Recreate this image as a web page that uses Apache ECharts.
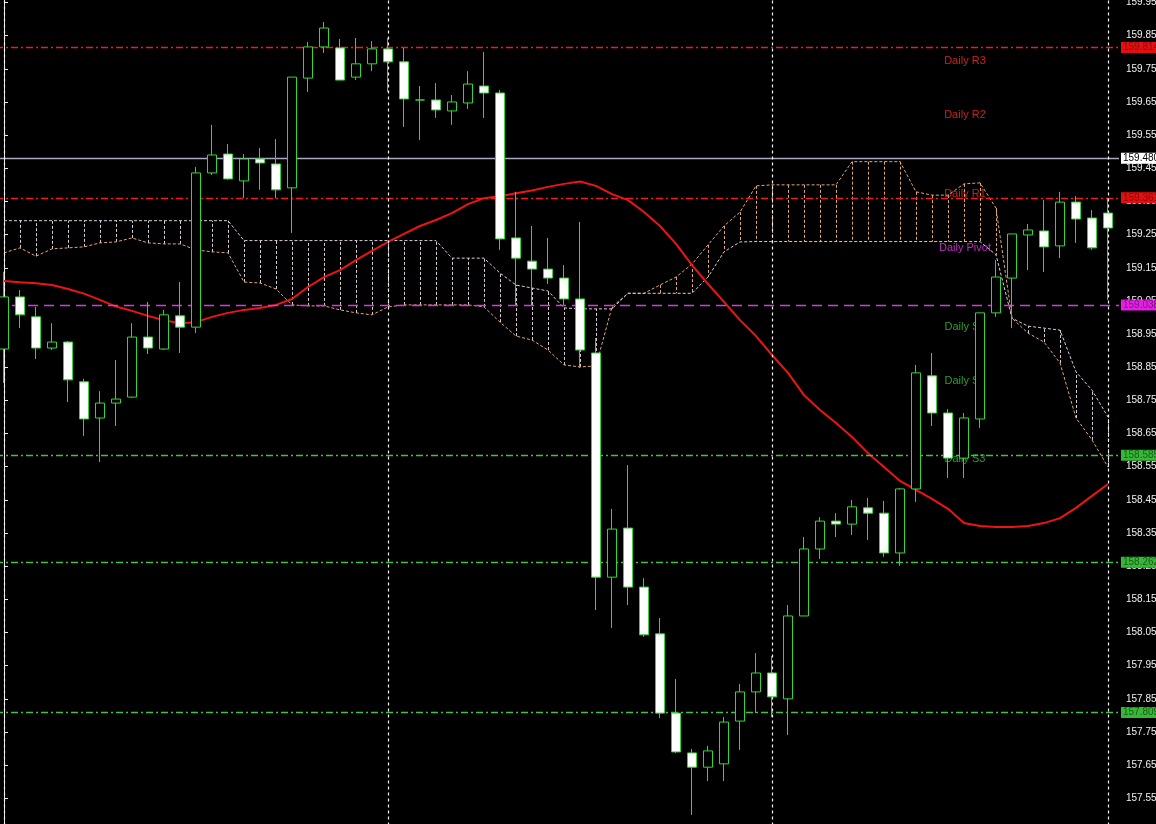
<!DOCTYPE html>
<html><head><meta charset="utf-8">
<style>html,body{margin:0;padding:0;background:#000;overflow:hidden}#chart{width:1156px;height:824px}</style>
<script src="https://cdn.jsdelivr.net/npm/echarts@6/dist/echarts.min.js"></script>
</head><body><div id="chart"></div>
<script>
const opens = [158.905,159.062,159.002,158.908,158.926,158.806,158.697,158.742,158.760,158.941,
158.905,159.005,158.971,159.436,159.493,159.412,159.478,159.463,159.391,159.722,
159.816,159.813,159.725,159.765,159.810,159.771,159.656,159.656,159.623,159.647,
159.698,159.677,159.240,159.170,159.146,159.119,159.056,158.893,158.217,158.365,
158.187,158.046,157.807,157.687,157.644,157.654,157.783,157.871,157.928,157.850,
158.100,158.302,158.386,158.377,158.426,158.410,158.290,158.483,158.824,158.712,
158.576,158.694,159.014,159.119,159.249,159.261,159.216,159.348,159.300,159.315];
const closes = [159.062,159.008,158.908,158.926,158.812,158.694,158.742,158.754,158.941,158.908,
159.008,158.971,159.436,159.490,159.418,159.478,159.466,159.385,159.725,159.816,
159.873,159.716,159.765,159.810,159.771,159.659,159.656,159.626,159.650,159.704,
159.677,159.237,159.179,159.146,159.119,159.056,158.902,158.217,158.362,158.187,
158.043,157.807,157.690,157.644,157.693,157.780,157.871,157.928,157.856,158.100,
158.302,158.386,158.377,158.429,158.410,158.290,158.483,158.833,158.712,158.576,
158.697,159.014,159.122,159.252,159.264,159.213,159.348,159.297,159.210,159.270];
const lows = [158.802,158.968,158.875,158.902,158.745,158.643,158.564,158.673,158.757,158.890,
158.902,158.893,158.953,159.430,159.415,159.360,159.385,159.360,159.255,159.680,
159.798,159.716,159.716,159.743,159.680,159.575,159.535,159.602,159.581,159.629,
159.602,159.204,159.038,159.038,159.101,159.038,158.848,158.118,158.064,158.133,
158.037,157.792,157.687,157.500,157.602,157.602,157.696,157.807,157.795,157.741,
158.100,158.272,158.338,158.344,158.329,158.278,158.251,158.444,158.673,158.516,
158.516,158.667,159.002,158.968,159.143,159.137,159.179,159.225,159.204,159.053];
const highs = [159.137,159.083,159.032,158.983,158.929,158.815,158.778,158.872,158.983,159.047,
159.023,159.107,159.454,159.581,159.523,159.493,159.511,159.538,159.725,159.831,
159.891,159.840,159.843,159.834,159.843,159.813,159.698,159.707,159.671,159.743,
159.801,159.686,159.379,159.276,159.240,159.158,159.288,158.938,158.423,158.555,
158.214,158.094,157.910,157.699,157.708,157.795,157.895,157.988,157.979,158.133,
158.338,158.398,158.410,158.450,158.456,158.447,158.486,158.857,158.893,158.724,
158.712,159.014,159.173,159.252,159.282,159.354,159.379,159.366,159.324,159.360];
const maValues = [159.110,159.106,159.103,159.098,159.086,159.072,159.053,159.033,159.020,159.005,
158.992,158.983,158.986,159.002,159.014,159.023,159.029,159.038,159.056,159.092,
159.122,159.143,159.173,159.201,159.228,159.252,159.276,159.294,159.315,159.342,
159.360,159.366,159.375,159.383,159.394,159.403,159.410,159.397,159.372,159.354,
159.318,159.276,159.222,159.158,159.101,159.047,158.992,158.944,158.887,158.833,
158.766,158.721,158.682,158.640,158.591,158.549,158.507,158.480,158.453,158.423,
158.380,158.371,158.368,158.368,158.371,158.380,158.395,158.426,158.462,158.498];
const spanA = [159.195,159.210,159.185,159.207,159.210,159.213,159.225,159.228,159.240,159.225,
159.222,159.222,159.204,159.198,159.195,159.107,159.104,159.086,159.038,159.035,
159.035,159.023,159.014,159.008,159.032,159.038,159.038,159.038,159.038,159.038,
159.032,158.986,158.944,158.932,158.902,158.857,158.851,158.854,159.032,159.073,
159.073,159.098,159.122,159.161,159.219,159.276,159.318,159.397,159.400,159.400,
159.400,159.400,159.400,159.470,159.470,159.470,159.470,159.379,159.369,159.369,
159.403,159.406,159.330,158.998,158.953,158.926,158.863,158.697,158.631,158.549];
const spanB = [159.292,159.292,159.292,159.292,159.292,159.292,159.292,159.292,159.292,159.292,
159.292,159.292,159.292,159.292,159.292,159.232,159.232,159.232,159.232,159.232,
159.232,159.232,159.232,159.232,159.232,159.232,159.232,159.232,159.179,159.179,
159.179,159.134,159.098,159.089,159.080,159.029,159.026,159.026,159.026,159.073,
159.073,159.073,159.073,159.073,159.122,159.198,159.228,159.229,159.229,159.229,
159.229,159.229,159.229,159.229,159.229,159.229,159.229,159.229,159.229,159.229,
159.229,159.229,159.189,158.998,158.974,158.968,158.962,158.836,158.781,158.700];
const levelValues = [159.814, 159.480, 159.361, 159.038, 158.585, 158.262, 157.809];
const levelKinds = ['R', 'bid', 'R', 'P', 'S', 'S', 'S'];
const pivotLabels = ['Daily R3', 'Daily R2', 'Daily R1', 'Daily Pivot', 'Daily S1', 'Daily S2', 'Daily S3'];
const pivotLabelValues = [159.774, 159.611, 159.372, 159.210, 158.971, 158.809, 158.573];
const pivotLabelKinds = ['R', 'R', 'R', 'P', 'S', 'S', 'S'];
const labelBar = 60.06;
const separatorBars = [0, 24, 48, 69];

const FONT = 'Liberation Sans';
const GREEN = '#34d634';
const SANDY = '#e2a872';
const THISTLE = '#dccbdc';
const styles = {
  R:   {line: '#f01c1c', type: [7, 3, 2, 3], bg: '#e41010', fg: '#8a0a0a', text: '#ff2828'},
  bid: {line: '#a8a8c0', type: 'solid', bg: '#ffffff', fg: '#000000'},
  P:   {line: '#dc38dc', type: [10, 6], bg: '#e420e4', fg: '#7a107a', text: '#ee36ee'},
  S:   {line: '#44c044', type: [7, 3, 2, 3], bg: '#36b836', fg: '#1c5c1c', text: '#3cc03c'}
};

const xs = opens.map((_, i) => i);
const chart = echarts.init(document.getElementById('chart'), null, {renderer: 'canvas'});
chart.setOption({
  backgroundColor: '#000000',
  animation: false,
  grid: {left: -4, top: 0, width: 1123, height: 831.5, outerBoundsMode: 'none', containLabel: false},
  xAxis: {type: 'value', min: -0.5, max: 69.6875, show: false},
  yAxis: {
    type: 'value', position: 'right', min: 157.45, max: 159.9575, interval: 0.1, scale: true,
    axisLine: {show: true, lineStyle: {color: '#e8e8e8', width: 1}},
    axisTick: {show: true, length: 4, lineStyle: {color: '#e8e8e8'}},
    splitLine: {show: false},
    axisLabel: {
      color: '#f2f2f2', fontSize: 10, fontFamily: FONT, margin: 7, showMaxLabel: false,
      formatter: v => (Math.abs(Math.round(v * 1000) % 100 - 50) < 1 ? v.toFixed(3) : '')
    }
  },
  series: [
    {
      type: 'scatter', z: 1, silent: true, symbolSize: 1,
      itemStyle: {color: 'rgba(0,0,0,0)'},
      label: {show: true, position: 'inside', formatter: '{b}', fontSize: 11, fontFamily: FONT},
      data: pivotLabels.map((n, i) => ({name: n, value: [labelBar, pivotLabelValues[i]],
        label: {color: styles[pivotLabelKinds[i]].text}}))
    },
    {
      type: 'line', z: 2, silent: true, data: [], clip: false,
      markLine: {
        silent: true, symbol: ['none', 'none'], precision: 3,
        data: levelValues.map((v, i) => {
          const s = styles[levelKinds[i]];
          return {yAxis: v, lineStyle: {color: s.line, type: s.type, width: 1.4},
            label: {show: true, position: 'end', distance: 2, formatter: v.toFixed(3),
              backgroundColor: s.bg, color: s.fg, padding: [1, 4, 0, 2], fontSize: 10, fontFamily: FONT}};
        })
      }
    },
    {
      type: 'line', z: 2, silent: true, data: [],
      markLine: {
        silent: true, symbol: ['none', 'none'], label: {show: false},
        lineStyle: {color: '#f4f4f4', type: [3, 3], width: 1.2},
        data: separatorBars.map(b => ({xAxis: b}))
      }
    },
    {
      type: 'custom', z: 3, silent: true,
      data: xs.map(i => [i, spanA[i], spanB[i]]),
      encode: {x: 0, y: [1, 2]},
      renderItem: (params, api) => {
        const x = api.value(0), a = api.value(1), b = api.value(2);
        const p1 = api.coord([x, a]), p2 = api.coord([x, b]);
        const px = Math.round(p1[0]) + 0.5;
        return {type: 'line', shape: {x1: px, y1: p1[1], x2: px, y2: p2[1]},
          style: {stroke: a > b ? SANDY : THISTLE, lineWidth: 1, lineDash: [3, 2]}};
      }
    },
    {
      type: 'line', z: 3, silent: true, symbol: 'none',
      data: xs.map(i => [i, spanA[i]]),
      lineStyle: {color: SANDY, width: 1, type: [3, 2]}
    },
    {
      type: 'line', z: 3, silent: true, symbol: 'none',
      data: xs.map(i => [i, spanB[i]]),
      lineStyle: {color: THISTLE, width: 1, type: [3, 2]}
    },
    {
      type: 'line', z: 4, silent: true, symbol: 'none',
      data: xs.map(i => [i, maValues[i]]),
      lineStyle: {color: '#ee1414', width: 2}
    },
    {
      type: 'candlestick', z: 5, silent: true, barWidth: 10,
      encode: {x: 0, y: [1, 2, 3, 4]},
      data: xs.map(i => [i, opens[i], closes[i], lows[i], highs[i]]),
      itemStyle: {color: '#000000', color0: '#ffffff', borderColor: GREEN, borderColor0: GREEN,
        borderColorDoji: GREEN, borderWidth: 1}
    }
  ]
});
</script></body></html>
